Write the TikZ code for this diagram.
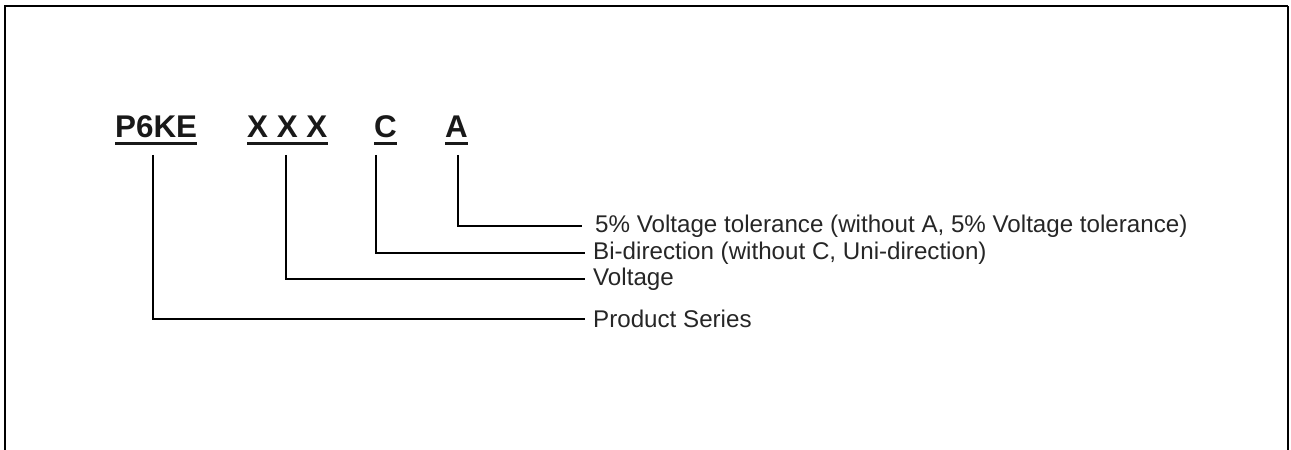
\documentclass[tikz,border=0pt]{standalone}
\usepackage{fontspec}
\setmainfont{Liberation Sans}
\begin{document}
\begin{tikzpicture}[x=1bp,y=-1bp,
  code/.style={inner sep=0pt, anchor=base west, font=\fontsize{31.5}{36}\selectfont\bfseries, text=black!90},
  ul/.style={line width=3bp, draw=black!90},
  lbl/.style={inner ysep=0pt, inner xsep=8bp, anchor=west, font=\fontsize{24.25}{28}\selectfont, text=black!85},
  conn/.style={line width=1.6bp, draw=black},
  frame/.style={line width=2bp, draw=black}]
\useasboundingbox (0,0) rectangle (1291,450);
\draw[frame] (5,451) -- (5,6.5) -- (1288,6.5);
\draw[line width=1.3bp] (1288,6.5) -- (1288,451);
% code letters
\node[code] (p6ke) at (115,138) {P6KE};
\node[code] (xxx) at (247,138) {X X X};
\node[code] (cc) at (374,138) {C};
\node[code] (aa) at (445,138) {A};
\foreach \n in {p6ke,xxx,cc,aa}
  \draw[ul] ([yshift=-6bp]\n.base west) -- ([yshift=-6bp]\n.base east);
% labels
\node[lbl, inner xsep=13bp] (la) at (582,226) {5\% Voltage tolerance (without A, 5\% Voltage tolerance)};
\node[lbl] (lc) at (585,253) {Bi-direction (without C, Uni-direction)};
\node[lbl] (lv) at (585,279) {Voltage};
\node[lbl] (lp) at (585,319) {Product Series};
% connector starts
\coordinate (sp) at (153,155);
\coordinate (sx) at (286,155);
\coordinate (sc) at (376,155);
\coordinate (sa) at (458,155);
\draw[conn] (sa) |- (la.west);
\draw[conn] (sc) |- (lc.west);
\draw[conn] (sx) |- (lv.west);
\draw[conn] (sp) |- (lp.west);
\end{tikzpicture}
\end{document}
